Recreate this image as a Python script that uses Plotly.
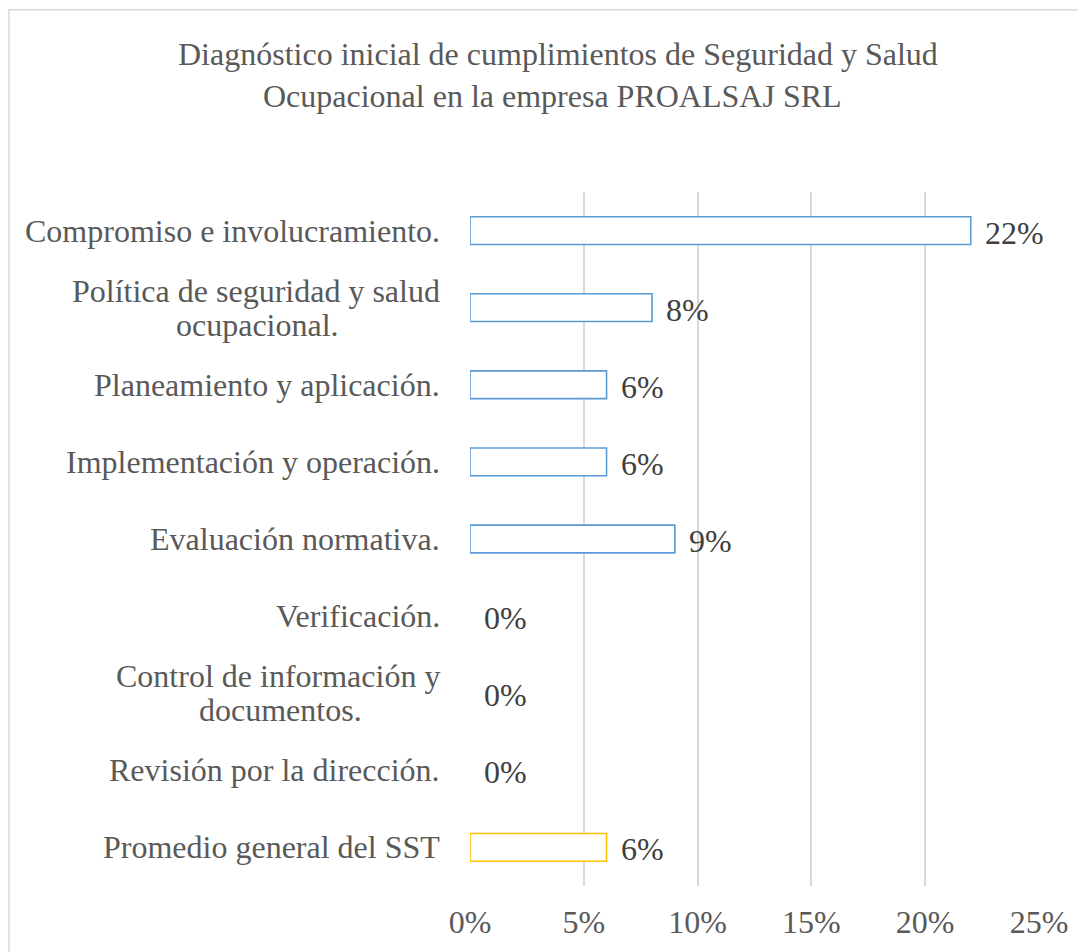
import plotly.graph_objects as go

categories = [
    "Compromiso e involucramiento.",
    "Política de seguridad y salud<br>ocupacional.",
    "Planeamiento y aplicación.",
    "Implementación y operación.",
    "Evaluación normativa.",
    "Verificación.",
    "Control de información y<br>documentos.",
    "Revisión por la dirección.",
    "Promedio general del SST",
]
values = [0.22, 0.08, 0.06, 0.06, 0.09, 0.0, 0.0, 0.0, 0.06]
x_ticks = [0, 0.05, 0.10, 0.15, 0.20, 0.25]
title_lines = [
    "Diagnóstico inicial de cumplimientos de Seguridad y Salud",
    "Ocupacional en la empresa PROALSAJ SRL",
]

BLUE = "#5B9BD5"
GOLD = "#FFC000"
line_colors = [GOLD if c.startswith("Promedio") else BLUE for c in categories]
line_widths = [1.6 if v > 0 else 0 for v in values]

FONT = "Liberation Serif"
LABEL_SIZE = 32
TITLE_SIZE = 32
TEXT_COLOR = "#595959"
VALUE_COLOR = "#404040"

# page body adds an 8px offset; figure is sized to fit the window
OFF = 8
W, H = 1086 - OFF, 952 - OFF
ML, MR, MT, MB = 470 - OFF, 47, 192 - OFF, 63
pw = W - ML - MR
ph = H - MT - MB

# horizontal centers (relative to plot left) of the centered second lines
second_line_shift = {
    "Política de seguridad y salud<br>ocupacional.": -212.5,
    "Control de información y<br>documentos.": -190,
}

fig = go.Figure()
fig.add_trace(go.Bar(
    y=categories,
    x=values,
    orientation="h",
    width=0.36,
    marker=dict(color="white", line=dict(color=line_colors, width=line_widths)),
    hoverinfo="skip",
    showlegend=False,
))

annotations = []
lab_font = dict(family=FONT, size=LABEL_SIZE, color=TEXT_COLOR)
for c in categories:
    lines = c.split("<br>")
    if len(lines) == 1:
        annotations.append(dict(
            x=0, xref="paper", y=c, yref="y", text=c, showarrow=False,
            xanchor="right", yanchor="middle", xshift=-28, font=lab_font,
        ))
    else:
        annotations.append(dict(
            x=0, xref="paper", y=c, yref="y", text=lines[0], showarrow=False,
            xanchor="right", yanchor="middle", xshift=-28, yshift=17,
            font=lab_font,
        ))
        annotations.append(dict(
            x=0, xref="paper", y=c, yref="y", text=lines[1], showarrow=False,
            xanchor="center", yanchor="middle", xshift=second_line_shift[c],
            yshift=-17, font=lab_font,
        ))

for c, v in zip(categories, values):
    annotations.append(dict(
        x=v, xref="x", y=c, yref="y", text=f"{round(v * 100)}%", showarrow=False,
        xanchor="left", yanchor="middle", xshift=12, yshift=-2,
        font=dict(family=FONT, size=LABEL_SIZE, color=VALUE_COLOR),
    ))

title_font = dict(family=FONT, size=TITLE_SIZE, color=TEXT_COLOR)
annotations.append(dict(
    x=(557.5 - OFF - ML) / pw, xref="paper",
    y=(H - MB - (53 - OFF)) / ph, yref="paper",
    text=title_lines[0], showarrow=False, xanchor="center", yanchor="middle",
    font=title_font,
))
annotations.append(dict(
    x=(552.5 - OFF - ML) / pw, xref="paper",
    y=(H - MB - (96 - OFF)) / ph, yref="paper",
    text=title_lines[1], showarrow=False, xanchor="center", yanchor="middle",
    font=title_font,
))

fig.update_layout(
    width=W, height=H,
    margin=dict(l=ML, r=MR, t=MT, b=MB, pad=0),
    paper_bgcolor="white", plot_bgcolor="white",
    annotations=annotations,
    xaxis=dict(
        range=[0, 0.25], tickvals=x_ticks, tickformat=".0%",
        showgrid=True, gridcolor="#D9D9D9", gridwidth=1.5,
        zeroline=False, showline=False, ticks="",
        ticklabelstandoff=14,
        tickfont=dict(family=FONT, size=LABEL_SIZE, color=TEXT_COLOR),
        fixedrange=True,
    ),
    yaxis=dict(
        categoryorder="array", categoryarray=categories, autorange="reversed",
        showticklabels=False, showgrid=False, zeroline=False, showline=False,
        ticks="", fixedrange=True,
    ),
    shapes=[dict(
        type="rect", xref="paper", yref="paper",
        x0=(9 - OFF - ML) / pw, x1=(1100 - ML) / pw,
        y0=-(980 - (H - MB)) / ph,
        y1=((H - MB) - 1) / ph,
        line=dict(color="#D9D9D9", width=1.5), fillcolor="rgba(0,0,0,0)",
        layer="below",
    )],
)

fig.write_html("out.html")
